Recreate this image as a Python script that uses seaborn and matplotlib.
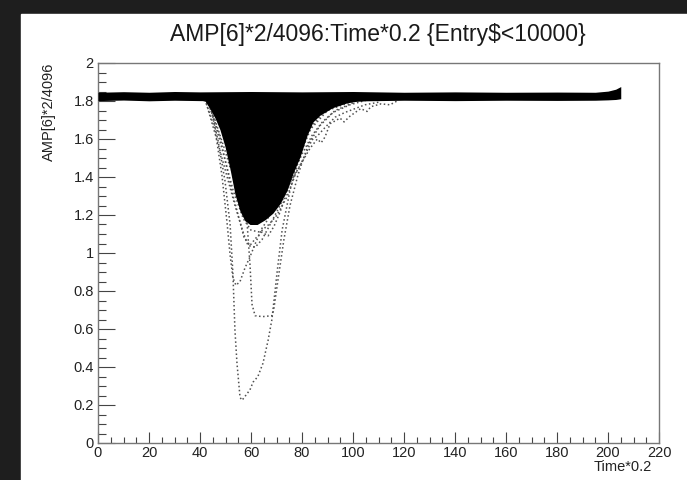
import pandas as pd
import seaborn as sns
import matplotlib.pyplot as plt
from matplotlib.ticker import MultipleLocator
from matplotlib.patches import Rectangle

# baseline band
band_t = [0, 10, 20, 30, 40, 60, 80, 100, 120, 140, 160, 180, 195, 200, 203, 205]
band_top = [1.846, 1.849, 1.846, 1.850, 1.848, 1.850, 1.848, 1.850, 1.846, 1.848,
            1.846, 1.847, 1.846, 1.852, 1.862, 1.876]
band_bot = [1.802, 1.805, 1.801, 1.804, 1.802, 1.80, 1.80, 1.80, 1.804, 1.802,
            1.804, 1.803, 1.804, 1.806, 1.808, 1.812]

# dense pile-up of pulses, lower envelope
core_t = [40, 42, 43.9, 45.9, 47.8, 49.8, 51.8, 53.7, 55.7, 57.6, 59.6, 62.4, 65.5,
          68.6, 71.4, 74.1, 76.5, 79.2, 82, 84.3, 87, 92, 97.6, 102, 107.8, 114, 121]
core_low = [1.805, 1.80, 1.76, 1.71, 1.65, 1.56, 1.44, 1.31, 1.22, 1.17, 1.15, 1.15,
            1.175, 1.21, 1.26, 1.33, 1.42, 1.505, 1.62, 1.69, 1.725, 1.765, 1.79, 1.80,
            1.805, 1.81, 1.815]

# single pulses that stick out of the pile
trace_a_t = [40, 43.9, 47.1, 49.8, 51.8, 52.9, 53.7, 54.5, 55.7, 56.5, 59.6, 60.8, 62.7,
             64.7, 66.7, 68.2, 70.2, 72.2, 75.3, 79.2, 83.9, 89, 94.9, 102.7]
trace_a_v = [1.82, 1.78, 1.59, 1.38, 1.15, 0.895, 0.595, 0.42, 0.24, 0.225, 0.28, 0.32,
             0.35, 0.42, 0.54, 0.65, 0.895, 1.12, 1.33, 1.515, 1.67, 1.75, 1.79, 1.81]

trace_b_t = [42, 45.9, 49.8, 51.8, 55.7, 58.4, 59.6, 60.4, 61.6, 64.5, 68.2, 68.9, 70.6,
             72.9, 75.3, 78.4, 82.4, 87, 92.2, 98.8, 106.7]
trace_b_v = [1.82, 1.70, 1.54, 1.45, 1.36, 1.17, 0.94, 0.73, 0.67, 0.665, 0.67, 0.70,
             0.86, 1.07, 1.25, 1.41, 1.57, 1.67, 1.74, 1.78, 1.81]

trace_c_t = [42, 45.9, 48.6, 50.6, 51.8, 52.9, 54.1, 55.7, 57.6, 59.6, 62, 64.3, 66.3,
             69.4, 75.3, 81.2, 90, 100]
trace_c_v = [1.805, 1.65, 1.41, 1.16, 0.99, 0.87, 0.83, 0.85, 0.92, 0.98, 1.06, 1.13,
             1.17, 1.28, 1.46, 1.62, 1.75, 1.80]

trace_d_t = [42, 47.8, 53.7, 56.9, 58.8, 61.6, 64.3, 67.5, 71.4, 75.3, 79.2, 83.1, 86,
             87.5, 89, 91, 94.9, 96.5, 98.8, 103, 105.5, 107, 111, 114.5, 118]
trace_d_v = [1.81, 1.54, 1.25, 1.11, 1.04, 1.03, 1.07, 1.15, 1.25, 1.37, 1.46, 1.55,
             1.60, 1.58, 1.61, 1.68, 1.71, 1.69, 1.72, 1.76, 1.745, 1.77, 1.785, 1.78, 1.805]

trace_e_t = [43, 48, 53, 57, 60, 63.5, 67, 70.2, 74.1, 77.3, 81.2, 83.9, 86.3, 89, 93,
             96.9, 100.8, 104.7, 110.6]
trace_e_v = [1.81, 1.58, 1.33, 1.18, 1.12, 1.11, 1.15, 1.20, 1.295, 1.41, 1.515, 1.595,
             1.62, 1.66, 1.715, 1.74, 1.76, 1.78, 1.795]

trace_f_t = [43, 48, 53, 57.3, 59.6, 62, 64.3, 66.7, 69, 71.4, 74, 77, 80, 84, 88, 93, 100]
trace_f_v = [1.81, 1.60, 1.30, 1.08, 1.04, 1.08, 1.11, 1.09, 1.14, 1.215, 1.32, 1.43,
             1.52, 1.62, 1.69, 1.75, 1.79]


def build_traces():
    """ stack the single pulses into one long table """
    parts = []
    for name, t, v in [('a', trace_a_t, trace_a_v), ('b', trace_b_t, trace_b_v),
                       ('c', trace_c_t, trace_c_v), ('d', trace_d_t, trace_d_v),
                       ('e', trace_e_t, trace_e_v), ('f', trace_f_t, trace_f_v)]:
        parts.append(pd.DataFrame({'t': t, 'amp': v, 'trace': name}))
    return pd.concat(parts, ignore_index=True)


def main():
    sns.set_theme(style='ticks')
    plt.rcParams['font.family'] = ['Liberation Sans', 'DejaVu Sans']

    fig = plt.figure(figsize=(6.87, 4.80), dpi=100)
    fig.patch.set_facecolor('#1e1e1e')
    # white canvas, dark strip on the left and top
    fig.add_artist(Rectangle((21 / 687, 0), 1 - 21 / 687, 1 - 14 / 480,
                             transform=fig.transFigure, color='white', zorder=0))

    ax = fig.add_axes([98 / 687, 1 - 443 / 480, 561 / 687, 380 / 480])
    ax.set_facecolor('white')

    df = build_traces()
    sns.lineplot(data=df, x='t', y='amp', units='trace', estimator=None, sort=False,
                 color='#505050', lw=1.1, ls=':', legend=False, ax=ax)

    ax.fill_between(band_t, band_bot, band_top, color='black', lw=0, zorder=3)
    ax.fill_between(core_t, core_low, 1.83, color='black', lw=0, zorder=3)

    ax.set_xlim(0, 220)
    ax.set_ylim(0, 2)
    ax.xaxis.set_minor_locator(MultipleLocator(5))
    ax.yaxis.set_minor_locator(MultipleLocator(0.05))
    ax.set_xticks(range(0, 221, 20))
    ax.set_xticklabels([str(v) for v in range(0, 221, 20)])
    ax.set_yticks([0, 0.2, 0.4, 0.6, 0.8, 1, 1.2, 1.4, 1.6, 1.8, 2])
    ax.set_yticklabels(['0', '0.2', '0.4', '0.6', '0.8', '1', '1.2', '1.4', '1.6', '1.8', '2'])

    ax.tick_params(axis='both', which='both', direction='in', colors='#444444',
                   labelcolor='#222222', labelsize=10.5, top=False, right=False)
    ax.tick_params(axis='y', which='major', length=12.2, width=0.8, pad=3)
    ax.tick_params(axis='y', which='minor', length=6.1, width=0.8)
    ax.tick_params(axis='x', which='major', length=8, width=0.8, pad=2)
    ax.tick_params(axis='x', which='minor', length=4, width=0.8)
    for sp in ax.spines.values():
        sp.set_visible(True)
        sp.set_color('#777777')
        sp.set_linewidth(1.0)

    ax.set_xlabel('Time*0.2', loc='right', fontsize=10.5, color='#222222')
    ax.xaxis.set_label_coords(0.9875, -0.045)
    ax.set_ylabel('AMP[6]*2/4096', loc='top', fontsize=10.5, color='#222222')
    ax.yaxis.set_label_coords(-0.075, 1.0)

    fig.text(378 / 687, 1 - 35 / 480, 'AMP[6]*2/4096:Time*0.2 {Entry$<10000}',
             ha='center', va='center', fontsize=16.5, color='#1a1a1a')

    fig.savefig('out.png', dpi=100, facecolor=fig.get_facecolor())


if __name__ == '__main__':
    main()
